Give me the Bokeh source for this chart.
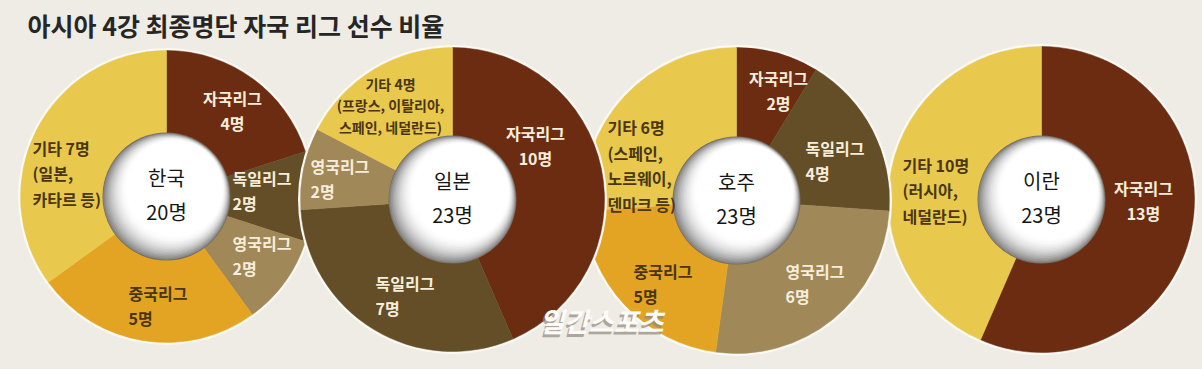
import math
from bokeh.plotting import figure
from bokeh.models import Range1d
from bokeh.embed import file_html
from bokeh.resources import INLINE
from bokeh.core.properties import value

# ---------------- data ----------------
TITLE = "아시아 4강 최종명단 자국 리그 선수 비율"

COUNTRIES = ["한국", "일본", "호주", "이란"]

KOREA_LEAGUES = ["자국리그", "독일리그", "영국리그", "중국리그", "기타"]
KOREA_PLAYERS = [4, 2, 2, 5, 7]
KOREA_OTHER_NOTE = "(일본,\n카타르 등)"

JAPAN_LEAGUES = ["자국리그", "독일리그", "영국리그", "기타"]
JAPAN_PLAYERS = [10, 7, 2, 4]
JAPAN_OTHER_NOTE = "(프랑스, 이탈리아,\n스페인, 네덜란드)"

AUSTRALIA_LEAGUES = ["자국리그", "독일리그", "영국리그", "중국리그", "기타"]
AUSTRALIA_PLAYERS = [2, 4, 6, 5, 6]
AUSTRALIA_OTHER_NOTE = "(스페인,\n노르웨이,\n덴마크 등)"

IRAN_LEAGUES = ["자국리그", "기타"]
IRAN_PLAYERS = [13, 10]
IRAN_OTHER_NOTE = "(러시아,\n네덜란드)"

WATERMARK = "일간스포츠"

# ---------------- styles / layout ----------------
BG = "#eeece5"
FONT = "Noto Sans CJK KR"
LEAGUE_COLORS = {
    "자국리그": "#6c2c11",
    "독일리그": "#634e27",
    "영국리그": "#a08858",
    "중국리그": "#e3a423",
    "기타": "#e8c94d",
}
LIGHT_TEXT = "#f6eedb"
DARK_TEXT = "#4a3511"
TEXT_COLORS = {
    "자국리그": LIGHT_TEXT, "독일리그": LIGHT_TEXT, "영국리그": LIGHT_TEXT,
    "중국리그": DARK_TEXT, "기타": DARK_TEXT,
}

PIE_CENTERS = [(166, 196), (452, 199), (736, 200), (1041, 199)]
PIE_RADII = [146, 152, 153, 153]
HOLE_R = 64
DRAW_ORDER = [3, 2, 0, 1]

# label anchor offsets from pie centre (layout only): (dx, dy, align)
LABEL_LAYOUT = [
    {"자국리그": (66, -86, "center"), "독일리그": (66, -6, "left"),
     "영국리그": (66, 59, "left"), "중국리그": (-38, 109, "left"),
     "기타": (-134, -23, "left")},
    {"자국리그": (83, -54, "center"), "독일리그": (-77, 96, "left"),
     "영국리그": (-142, -21, "left"), "기타": (-62, -94, "center")},
    {"자국리그": (42, -110, "center"), "독일리그": (69, -40, "left"),
     "영국리그": (49, 83, "left"), "중국리그": (-103, 83, "left"),
     "기타": (-129, -35, "left")},
    {"자국리그": (102, 1, "center"), "기타": (-139, -9, "left")},
]

PIES = [
    (KOREA_LEAGUES, KOREA_PLAYERS, KOREA_OTHER_NOTE),
    (JAPAN_LEAGUES, JAPAN_PLAYERS, JAPAN_OTHER_NOTE),
    (AUSTRALIA_LEAGUES, AUSTRALIA_PLAYERS, AUSTRALIA_OTHER_NOTE),
    (IRAN_LEAGUES, IRAN_PLAYERS, IRAN_OTHER_NOTE),
]

EM = 1.448  # Noto Sans CJK ascent+descent per em


def lh(spacing_px, font_px):
    return spacing_px / (EM * font_px)


W, H = 1202, 369
p = figure(width=W, height=H, output_backend="svg", toolbar_location=None,
           x_range=Range1d(0, W), y_range=Range1d(H, 0),
           min_border=0, background_fill_color=BG, border_fill_color=BG,
           outline_line_color=None)
p.axis.visible = False
p.grid.visible = False

# title
p.text(x=[27], y=[24], text=[TITLE], text_font=value(FONT), text_font_size="25px",
       text_font_style="bold", text_color="#262626", text_baseline="middle",
       text_align="left")

# pies
N_SHADE = 16
for i in DRAW_ORDER:
    leagues, players, note = PIES[i]
    cx, cy = PIE_CENTERS[i]
    R = PIE_RADII[i]
    total = sum(players)
    starts, ends, colors = [], [], []
    cum = 0
    for lg, n in zip(leagues, players):
        starts.append(math.pi / 2 - 2 * math.pi * cum / total)
        cum += n
        ends.append(math.pi / 2 - 2 * math.pi * cum / total)
        colors.append(LEAGUE_COLORS[lg])
    # soft light halo
    p.circle(x=[cx], y=[cy], radius=R + 2.5, fill_color="#fbf9f3", line_color=None)
    p.annular_wedge(x=[cx] * len(players), y=[cy] * len(players),
                    inner_radius=HOLE_R - 2, outer_radius=R,
                    start_angle=starts, end_angle=ends, direction="clock",
                    fill_color=colors, line_color=colors, line_width=0.5)
    # hole with soft shading (shadow to lower-left)
    p.circle(x=[cx], y=[cy], radius=HOLE_R, fill_color="#7b6c5c", line_color=None)
    for k in range(N_SHADE + 1):
        t = k / N_SHADE
        r = HOLE_R - 0.8 - k * 1.0
        d = k * 0.75 / math.sqrt(2)
        g = int(round(255 - 120 * (1 - t) ** 2.0))
        col = "#%02x%02x%02x" % (g, g, g)
        p.circle(x=[cx + d], y=[cy - d], radius=r, fill_color=col, line_color=None)
    # centre label
    p.text(x=[cx], y=[cy - 2], text=[f"{COUNTRIES[i]}\n{total}명"], text_font=value(FONT),
           text_font_size="20px", text_color="#161616", text_align="center",
           text_baseline="middle", text_line_height=lh(33, 20))
    # slice labels
    for lg, n in zip(leagues, players):
        dx, dy, align = LABEL_LAYOUT[i][lg]
        if lg == "기타":
            label = f"기타 {n}명\n{note}"
        else:
            label = f"{lg}\n{n}명"
        small = (lg == "기타" and i == 1)
        fs = 14 if small else 16
        sp = 22 if small else 25
        p.text(x=[cx + dx], y=[cy + dy], text=[label], text_font=value(FONT),
               text_font_size=f"{fs}px", text_font_style="bold", text_color=TEXT_COLORS[lg],
               text_align=align, text_baseline="middle", text_line_height=lh(sp, fs))

# watermark
p.text(x=[599], y=[323], text=[WATERMARK], text_font=value(FONT), text_font_size="27px",
       text_font_style="bold italic", text_color="#8f877d", text_alpha=0.7,
       text_align="center", text_baseline="middle")
p.text(x=[601], y=[320], text=[WATERMARK], text_font=value(FONT), text_font_size="27px",
       text_font_style="bold italic", text_color="#fcfbf8",
       text_align="center", text_baseline="middle")

html = file_html(p, INLINE, title="아시아 4강 자국 리그 선수 비율")
html = html.replace("</head>", f"<style>body{{background:{BG};}}</style></head>", 1)
open("out.html", "w").write(html)
